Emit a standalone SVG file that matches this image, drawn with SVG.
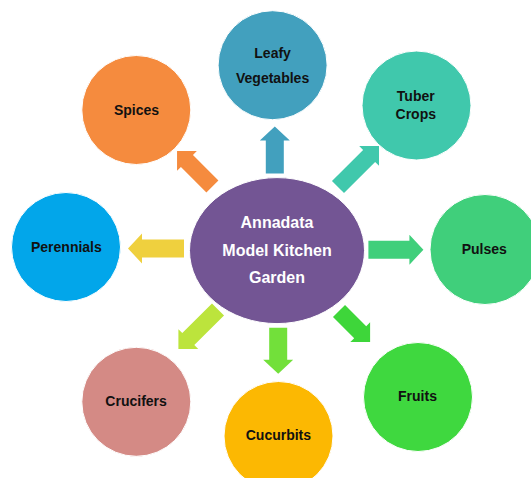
<svg xmlns="http://www.w3.org/2000/svg" width="531" height="478" viewBox="0 0 531 478">
<style>
.lbl{font-family:"Liberation Sans",Arial,sans-serif;font-weight:bold;font-size:14px;fill:#111;text-anchor:middle}
.ctr{font-family:"Liberation Sans",Arial,sans-serif;font-weight:bold;font-size:16px;fill:#fff;text-anchor:middle}
.c{stroke:#fff;stroke-width:1}
</style>
<rect width="531" height="478" fill="#fff"/>
<g id="connectors">
<polygon fill="#42a0be" points="0,-9 33,-9 33,-15 47,0 33,15 33,9 0,9" transform="translate(274.8,173.4) rotate(-90)"/>
<polygon fill="#f58b3e" points="0,-8.5 36,-8.5 36,-14 50,0 36,14 36,8.5 0,8.5" transform="translate(212.4,186.4) rotate(-135)"/>
<polygon fill="#40c8ac" points="0,-8.5 44,-8.5 44,-14 58,0 44,14 44,8.5 0,8.5" transform="translate(338,187) rotate(-45)"/>
<polygon fill="#efd03e" points="0,-9 42,-9 42,-15 56,0 42,15 42,9 0,9" transform="translate(184,248.5) rotate(180)"/>
<polygon fill="#40cf7b" points="0,-9 41,-9 41,-15 55,0 41,15 41,9 0,9" transform="translate(368.4,249.7)"/>
<polygon fill="#bce43c" points="0,-8.5 42,-8.5 42,-14 56,0 42,14 42,8.5 0,8.5" transform="translate(218,309.4) rotate(135)"/>
<polygon fill="#72e03a" points="0,-9 32,-9 32,-15 46,0 32,15 32,9 0,9" transform="translate(278.2,327.8) rotate(90)"/>
<polygon fill="#3ed63a" points="0,-8.5 30,-8.5 30,-14 44,0 30,14 30,8.5 0,8.5" transform="translate(339,311) rotate(45)"/>
</g>
<g id="center">
<ellipse class="c" cx="277" cy="250.6" rx="87.5" ry="73" fill="#735594"/>
<text class="ctr" x="277" y="227.5">Annadata</text>
<text class="ctr" x="277" y="255.5">Model Kitchen</text>
<text class="ctr" x="277" y="283">Garden</text>
</g>
<g id="leafy">
<circle class="c" cx="272.6" cy="65.2" r="54.5" fill="#42a0be"/>
<text class="lbl" x="272.6" y="57.6">Leafy</text>
<text class="lbl" x="272.6" y="83">Vegetables</text>
</g>
<g id="spices">
<circle class="c" cx="136.3" cy="110" r="54.5" fill="#f58b3e"/>
<text class="lbl" x="136.5" y="114.5">Spices</text>
</g>
<g id="tuber">
<circle class="c" cx="416.5" cy="105.5" r="54.5" fill="#40c8ac"/>
<text class="lbl" x="415.8" y="101">Tuber</text>
<text class="lbl" x="415.8" y="118.5">Crops</text>
</g>
<g id="perennials">
<circle class="c" cx="66" cy="247" r="54.5" fill="#02a6ea"/>
<text class="lbl" x="66.4" y="252.3">Perennials</text>
</g>
<g id="pulses">
<circle class="c" cx="485" cy="249.5" r="55" fill="#40cf7b"/>
<text class="lbl" x="484.3" y="254">Pulses</text>
</g>
<g id="crucifers">
<circle class="c" cx="136.3" cy="401.8" r="54.5" fill="#d48a85"/>
<text class="lbl" x="136.1" y="406.4">Crucifers</text>
</g>
<g id="cucurbits">
<circle class="c" cx="278.5" cy="436" r="54.5" fill="#fcb802"/>
<text class="lbl" x="278.4" y="440.2">Cucurbits</text>
</g>
<g id="fruits">
<circle class="c" cx="418" cy="397" r="54.5" fill="#3fd83f"/>
<text class="lbl" x="417.5" y="401.3">Fruits</text>
</g>
</svg>
